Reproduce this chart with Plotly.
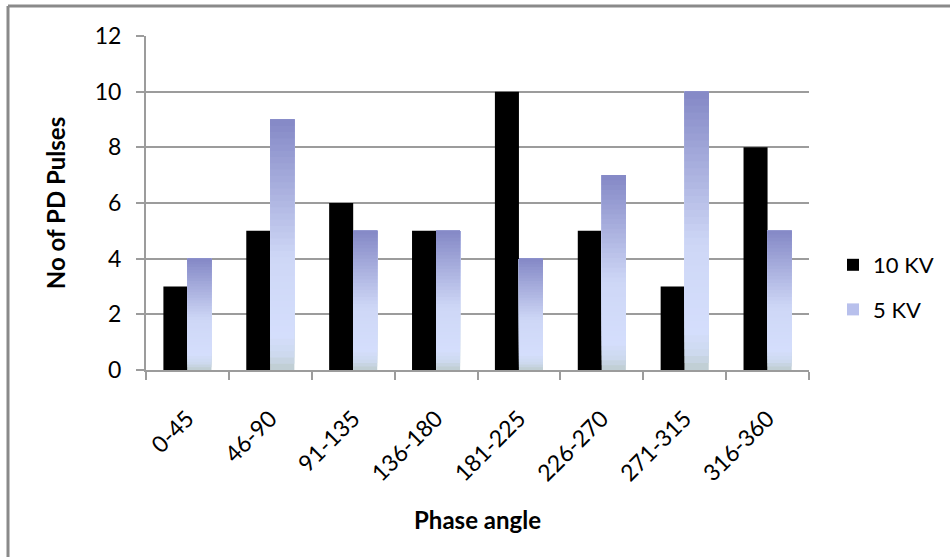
import plotly.graph_objects as go

# Phase-angle bins and PD pulse counts
phase_bins = ["0-45", "46-90", "91-135", "136-180", "181-225", "226-270", "271-315", "316-360"]
pulses_10kv = [3, 5, 6, 5, 10, 5, 3, 8]
pulses_5kv = [4, 9, 5, 5, 4, 7, 10, 5]
y_ticks = [0, 2, 4, 6, 8, 10, 12]

W, H = 950, 557
ML, MR, MT, MB = 146, 141, 36, 187
FONT = "Lato"
GRID = "#9c9c9c"

# vertical colour ramp for the 5 KV bars (0 = bottom of bar, 1 = top)
RAMP = [
    (0.00, (190, 204, 206)),
    (0.06, (205, 217, 238)),
    (0.14, (212, 222, 252)),
    (0.45, (206, 215, 246)),
    (1.00, (132, 136, 198)),
]
N_SEG = 40


def ramp_color(t):
    for (t0, c0), (t1, c1) in zip(RAMP[:-1], RAMP[1:]):
        if t0 <= t <= t1:
            f = (t - t0) / (t1 - t0)
            r, g, b = (round(a + (bb - a) * f) for a, bb in zip(c0, c1))
            return f"rgb({r},{g},{b})"
    r, g, b = RAMP[-1][1]
    return f"rgb({r},{g},{b})"


fig = go.Figure()

fig.add_trace(go.Bar(
    x=phase_bins, y=pulses_10kv, name="10 KV",
    marker=dict(color="#000000", line=dict(width=0)),
    offsetgroup="a", legendgroup="a",
))

# 5 KV bars: overlapping layers, each running from a fraction of the value up to
# the full value, so later layers shade the upper part of the bar
for k in range(N_SEG):
    t0 = k / N_SEG
    fig.add_trace(go.Bar(
        x=phase_bins,
        y=[v * (1 - t0) for v in pulses_5kv],
        base=[v * t0 for v in pulses_5kv],
        name="5 KV",
        marker=dict(color=ramp_color(t0 + 0.5 / N_SEG), line=dict(width=0)),
        offsetgroup="b", legendgroup="b",
        showlegend=False, hoverinfo="skip",
    ))

# legend entry for the 5 KV series
fig.add_trace(go.Bar(
    x=phase_bins, y=[None] * len(phase_bins), name="5 KV",
    marker=dict(color="rgb(184,192,236)", line=dict(width=0)),
    offsetgroup="b", legendgroup="b", showlegend=True,
))


def px_to_paper_x(px):
    return (px - ML) / (W - ML - MR)


def px_to_paper_y(py):
    return (H - MB - py) / (H - MT - MB)


# chart frame (top and left edges)
frame = dict(color="#8a8a8a", width=3)
fig.add_shape(type="line", xref="paper", yref="paper",
              x0=px_to_paper_x(8), x1=px_to_paper_x(W + 5),
              y0=px_to_paper_y(6), y1=px_to_paper_y(6), line=frame)
fig.add_shape(type="line", xref="paper", yref="paper",
              x0=px_to_paper_x(8), x1=px_to_paper_x(8),
              y0=px_to_paper_y(6), y1=px_to_paper_y(H + 5), line=frame)

fig.update_layout(
    width=W, height=H,
    margin=dict(l=ML, r=MR, t=MT, b=MB, autoexpand=False),
    paper_bgcolor="white", plot_bgcolor="white",
    barmode="group", bargap=0.42, bargroupgap=0,
    font=dict(family=FONT, size=22, color="#000000"),
    showlegend=True,
    legend=dict(
        xref="container", yref="container",
        x=833 / W, y=1 - 244 / H, xanchor="left", yanchor="top",
        traceorder="grouped", tracegroupgap=13,
        font=dict(family=FONT, size=22),
        bgcolor="rgba(0,0,0,0)",
    ),
    xaxis=dict(
        type="category",
        showgrid=False,
        showline=True, linecolor=GRID, linewidth=2,
        ticks="outside", ticklen=8, tickwidth=2, tickcolor=GRID,
        tickson="boundaries",
        tickangle=-45,
        ticklabelstandoff=24,
        tickfont=dict(family=FONT, size=23),
        title=dict(text="<b>Phase angle</b>", font=dict(family=FONT, size=24), standoff=27),
    ),
    yaxis=dict(
        range=[0, 12], tickvals=y_ticks,
        showgrid=True, gridcolor=GRID, gridwidth=2,
        showline=True, linecolor=GRID, linewidth=2,
        ticks="outside", ticklen=8, tickwidth=2, tickcolor=GRID,
        zeroline=False,
        ticklabelstandoff=10,
        tickfont=dict(family=FONT, size=23),
        title=dict(text="<b>No of PD Pulses</b>", font=dict(family=FONT, size=24), standoff=22),
    ),
)

fig.write_html("out.html")
